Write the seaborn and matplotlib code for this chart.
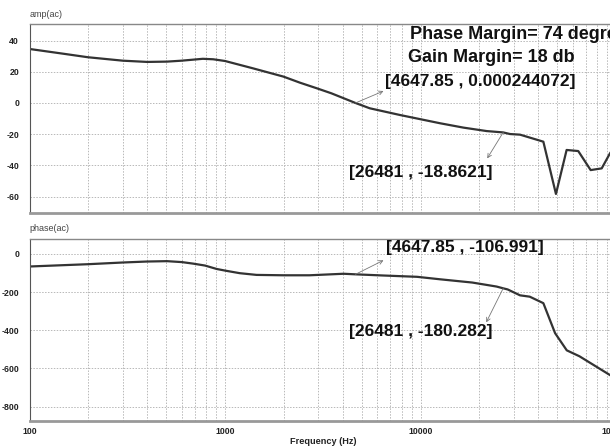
import numpy as np
import pandas as pd
import matplotlib
matplotlib.use("Agg")
import matplotlib.pyplot as plt
from matplotlib.ticker import FixedLocator, FuncFormatter, LogLocator, NullFormatter
import seaborn as sns

# Gain (dB) versus frequency
freq_amp = [100, 150, 199, 300, 400, 505, 600, 770, 870, 1000, 1390, 1990, 2418,
            2950, 3500, 4647.85, 5500, 7850, 12600, 16600, 21800, 26481, 28700,
            32300, 42500, 49300, 55900, 64100, 74200, 84500, 93100, 100000]
amp_db = [34.6, 31.5, 29.3, 27.1, 26.3, 26.5, 27.1, 28.3, 28.0, 26.9, 22.2, 16.9, 13.0,
          9.4, 6.2, 0.000244072, -3.4, -7.7, -13.0, -15.8, -18.0, -18.8621, -19.9,
          -20.3, -24.8, -58.3, -30.1, -30.8, -43.0, -41.9, -32.3, -27.0]

# Phase (degrees) versus frequency
freq_phase = [100, 199, 301, 398, 505, 602, 688, 790, 907, 1020, 1190, 1450, 2000,
              2700, 4040, 4647.85, 6400, 9600, 12600, 18400, 24500, 26481, 27900,
              32300, 36200, 42500, 48800, 56000, 65000, 93000, 100000]
phase_deg = [-66, -54, -45, -40, -38, -43, -51, -61, -79, -89, -101, -110, -112,
             -112, -104, -106.991, -113, -120, -133, -150, -171, -180.282, -186,
             -217, -224, -258, -415, -505, -536, -634, -655]

amp_ticks = [40, 20, 0, -20, -40, -60]
phase_ticks = [0, -200, -400, -600, -800]
freq_ticks = [100, 1000, 10000, 100000]

# Marked points: (frequency, value)
amp_marks = [(4647.85, 0.000244072), (26481, -18.8621)]
phase_marks = [(4647.85, -106.991), (26481, -180.282)]
phase_margin = 74
gain_margin = 18

sns.set_theme(style="white")
plt.rcParams["font.family"] = ["Liberation Sans", "DejaVu Sans"]

amp_df = pd.DataFrame({"freq": freq_amp, "amp": amp_db})
phase_df = pd.DataFrame({"freq": freq_phase, "phase": phase_deg})

W, H = 610, 446
fig = plt.figure(figsize=(W / 100, H / 100), dpi=100)
left_px, right_px = 29.5, 616.0
ax1 = fig.add_axes([left_px / W, (H - 212.7) / H, (right_px - left_px) / W, 188.7 / H])
ax2 = fig.add_axes([left_px / W, (H - 421) / H, (right_px - left_px) / W, 182 / H])

line_color = "#333333"
grid_color = "#b8b8b8"
tick_size = 6.3

sns.lineplot(data=amp_df, x="freq", y="amp", ax=ax1, color=line_color, lw=1.6,
             estimator=None, sort=False)
sns.lineplot(data=phase_df, x="freq", y="phase", ax=ax2, color=line_color, lw=1.6,
             estimator=None, sort=False)

for ax, yt, ylim, name, name_y in [(ax1, amp_ticks, (-70.3, 50.6), "amp(ac)", 1.048),
                                   (ax2, phase_ticks, (-875, 78), "phase(ac)", 1.055)]:
    ax.set_xscale("log")
    ax.set_xlim(100, 100000)
    ax.set_ylim(*ylim)
    ax.yaxis.set_major_locator(FixedLocator(yt))
    ax.yaxis.set_major_formatter(FuncFormatter(lambda v, p: f"{v:.0f}"))
    ax.xaxis.set_major_locator(FixedLocator(freq_ticks))
    ax.xaxis.set_minor_locator(LogLocator(base=10, subs=np.arange(2, 10)))
    ax.xaxis.set_minor_formatter(NullFormatter())
    ax.grid(True, which="both", axis="x", color=grid_color, ls=(0, (1.5, 1.5)), lw=0.7)
    ax.grid(True, which="major", axis="y", color=grid_color, ls=(0, (1.5, 1.5)), lw=0.7)
    ax.tick_params(axis="y", which="both", length=0, labelsize=tick_size,
                   labelcolor="#222222", pad=7.5)
    ax.tick_params(axis="x", which="both", length=0, labelsize=tick_size,
                   labelcolor="#222222", pad=4)
    for lab in ax.get_yticklabels():
        lab.set_fontweight("bold")
    ax.set_xlabel("")
    ax.set_ylabel("")
    ax.spines["left"].set_color("#555555")
    ax.spines["left"].set_linewidth(0.8)
    ax.spines["top"].set_color("#888888")
    ax.spines["top"].set_linewidth(1.0)
    ax.spines["right"].set_color("#888888")
    ax.spines["bottom"].set_color("#999999")
    ax.spines["bottom"].set_linewidth(2.0)
    ax.text(0.0, name_y, name, transform=ax.transAxes, fontsize=6.5, color="#444444",
            ha="left", va="center")

ax1.tick_params(axis="x", labelbottom=False)
ax2.xaxis.set_major_formatter(FuncFormatter(lambda v, p: f"{v:.0f}"))
for lab in ax2.get_xticklabels():
    lab.set_fontweight("bold")
ax2.set_xlabel("Frequency (Hz)", fontsize=6.6, fontweight="bold", color="#222222",
               labelpad=1)

arrow_kw = dict(arrowstyle="<-", color="#777777", lw=0.6, shrinkA=0, shrinkB=0,
                mutation_scale=7)
txt_kw = dict(fontsize=12.5, fontweight="bold", color="#111111", va="center")


def mark(ax, pt, arrow_off, text_off, label, ha):
    # thin pointer from the curve point toward its label
    ax.annotate("", xy=pt, xycoords="data", xytext=arrow_off,
                textcoords="offset points", arrowprops=arrow_kw)
    ax.annotate(label, xy=pt, xycoords="data", xytext=text_off,
                textcoords="offset points", ha=ha, **txt_kw)


f, v = amp_marks[0]
mark(ax1, (f, v), (20.2, 8.6), (21.6, 15.8), f"[{f:g} , {v:.6g}]", "left")
f, v = amp_marks[1]
mark(ax1, (f, v), (-11.5, -18.7), (-7.7, -29.2), f"[{f:g} , {v:g}]", "right")
f, v = phase_marks[0]
mark(ax2, (f, v), (20.2, 10.1), (22.3, 19.0), f"[{f:g} , {v:g}]", "left")
f, v = phase_marks[1]
mark(ax2, (f, v), (-12.2, -24.5), (-7.7, -31.4), f"[{f:g} , {v:g}]", "right")

ax1.text(0.649, 0.947, f"Phase Margin= {phase_margin} degrees", transform=ax1.transAxes,
         fontsize=13, fontweight="bold", color="#111111", ha="left", va="center")
ax1.text(0.645, 0.825, f"Gain Margin= {gain_margin} db", transform=ax1.transAxes,
         fontsize=13, fontweight="bold", color="#111111", ha="left", va="center")

fig.savefig("out.png", dpi=100)
